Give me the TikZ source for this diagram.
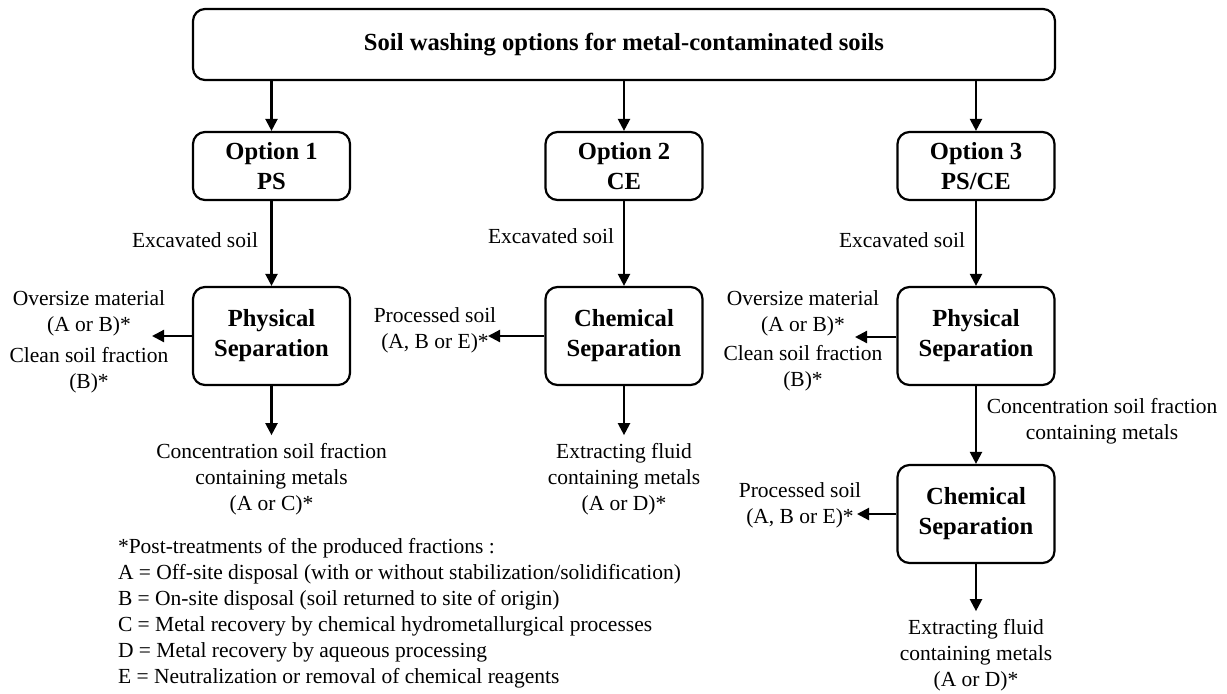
\documentclass[tikz,border=0pt]{standalone}
\usepackage{fontspec}
\setmainfont{Liberation Serif}
\usetikzlibrary{arrows.meta}

\newcommand\diagfont{\fontsize{10.75}{13}\selectfont}
\newcommand\boxfont{\fontsize{12.3}{15}\selectfont\bfseries}
\tikzset{
  box/.style={draw, line width=1.1pt, rounded corners=6pt, font=\boxfont, align=center, inner sep=0pt},
  optbox/.style={box, minimum width=78.5pt, minimum height=34pt},
  sepbox/.style={box, minimum width=78.5pt, minimum height=49pt},
  lbl/.style={font=\diagfont, align=center, inner sep=0pt, outer sep=4pt},
  arr/.style={line width=1.1pt, -{Triangle[length=6pt,width=6pt]}},
}

\begin{document}
\begin{tikzpicture}[x=0.5pt,y=-0.5pt]
            \useasboundingbox (0,0) rectangle (1227,693);
            % top
            \node[box, minimum width=431pt, minimum height=35.5pt] (title) at (624,44.5) {Soil washing options for metal-contaminated soils};
            \node[optbox] (opt1) at (271.5,166) {Option 1\\PS};
            \node[optbox] (opt2) at (624,166) {Option 2\\CE};
            \node[optbox] (opt3) at (976,166) {Option 3\\PS/CE};
            \draw[arr] (title.south -| opt1) -- (opt1);
            \draw[arr] (title.south -| opt2) -- (opt2);
            \draw[arr] (title.south -| opt3) -- (opt3);
            % option 1
            \node[sepbox] (phys1) at (271.5,336) {Physical\\Separation};
            \node[lbl] (exc1) at (195,240) {Excavated soil};
            \draw[arr] (opt1) -- (phys1);
            \node[lbl] (over1) at (89,313) {Oversize material\\(A or B)*};
            \node[lbl] (clean1) at (89,370) {Clean soil fraction\\(B)*};
            \coordinate (out1) at (152,336);
            \draw[arr] (phys1) -- (out1);
            \node[lbl] (conc1) at (271.5,479) {Concentration soil fraction\\containing metals\\(A or C)*};
            \draw[arr] (phys1) -- (conc1);
            % option 2
            \node[sepbox] (chem2) at (624,336) {Chemical\\Separation};
            \node[lbl] (exc2) at (551,236) {Excavated soil};
            \draw[arr] (opt2) -- (chem2);
            \node[lbl] (proc2) at (435,330) {Processed soil\\(A, B or E)*};
            \coordinate (out2) at (488,336);
            \draw[arr] (chem2) -- (out2);
            \node[lbl] (fluid2) at (624,479) {Extracting fluid\\containing metals\\(A or D)*};
            \draw[arr] (chem2) -- (fluid2);
            % option 3
            \node[sepbox] (phys3) at (976,336) {Physical\\Separation};
            \node[lbl] (exc3) at (902,240) {Excavated soil};
            \draw[arr] (opt3) -- (phys3);
            \node[lbl] (over3) at (803,313) {Oversize material\\(A or B)*};
            \node[lbl] (clean3) at (803,368) {Clean soil fraction\\(B)*};
            \coordinate (out3) at (855,337);
            \draw[arr] (phys3.west |- out3) -- (out3);
            \node[sepbox] (chem3) at (976,514) {Chemical\\Separation};
            \node[lbl] (conc3) at (1102,421) {Concentration soil fraction\\containing metals};
            \draw[arr] (phys3) -- (chem3);
            \node[lbl] (proc3) at (800,505) {Processed soil\\(A, B or E)*};
            \coordinate (out4) at (857,514);
            \draw[arr] (chem3) -- (out4);
            \node[lbl] (fluid3) at (976,655) {Extracting fluid\\containing metals\\(A or D)*};
            \draw[arr] (chem3) -- (fluid3);
            % footnote
            \node[lbl, align=left, anchor=west] (notes) at (110,613.5) {*Post-treatments of the produced fractions :\\
              A = Off-site disposal (with or without stabilization/solidification)\\
              B = On-site disposal (soil returned to site of origin)\\
              C = Metal recovery by chemical hydrometallurgical processes\\
              D = Metal recovery by aqueous processing\\
              E = Neutralization or removal of chemical reagents};
        \end{tikzpicture}
\end{document}
